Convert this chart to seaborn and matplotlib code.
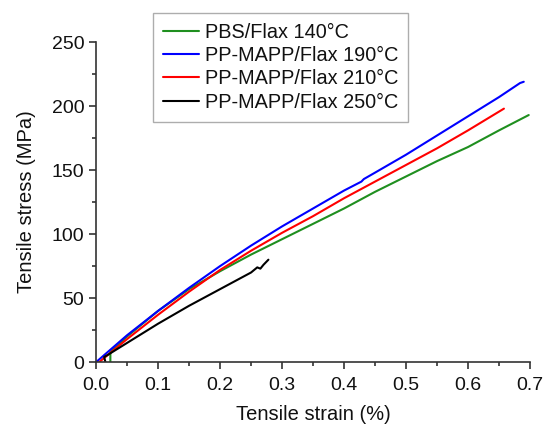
import numpy as np
import pandas as pd
import matplotlib
matplotlib.use("Agg")
import matplotlib.pyplot as plt
import seaborn as sns
from matplotlib.ticker import MultipleLocator, FormatStrFormatter

# --- Data ---
pbs_strain = [0.023, 0.023, 0.03, 0.05, 0.1, 0.15, 0.2, 0.25, 0.3, 0.35, 0.4, 0.45, 0.5, 0.55, 0.6, 0.65, 0.698]
pbs_stress = [0, 8, 11, 20, 40, 57, 71, 84, 96, 108, 120, 133, 145, 157, 168, 181, 193]

pp190_strain = [0.0, 0.05, 0.1, 0.15, 0.2, 0.25, 0.3, 0.35, 0.4, 0.428, 0.432, 0.45, 0.5, 0.55, 0.6, 0.65, 0.684, 0.69]
pp190_stress = [0, 21, 40, 58, 75, 91, 106, 120, 134, 141, 143, 148, 162, 177, 192, 207, 218, 219]

pp210_strain = [0.005, 0.05, 0.1, 0.15, 0.2, 0.25, 0.3, 0.35, 0.4, 0.45, 0.5, 0.55, 0.6, 0.658]
pp210_stress = [0, 18, 37, 55, 72, 87, 101, 114, 128, 141, 154, 167, 181, 198]

pp250_strain = [0.015, 0.013, 0.02, 0.05, 0.1, 0.15, 0.2, 0.25, 0.26, 0.265, 0.27, 0.278]
pp250_stress = [0, 4, 6, 15, 30, 44, 57, 70, 74, 73, 76, 80]

labels = ["PBS/Flax 140°C", "PP-MAPP/Flax 190°C", "PP-MAPP/Flax 210°C", "PP-MAPP/Flax 250°C"]
colors = ["#1f8f1f", "#0000ff", "#ff0000", "#000000"]

frames = []
for lab, xs, ys in zip(labels,
                       [pbs_strain, pp190_strain, pp210_strain, pp250_strain],
                       [pbs_stress, pp190_stress, pp210_stress, pp250_stress]):
    frames.append(pd.DataFrame({"strain": xs, "stress": ys, "sample": lab}))
df = pd.concat(frames, ignore_index=True)

sns.set_style("ticks")
plt.rcParams["font.family"] = ["Liberation Sans", "DejaVu Sans"]
plt.rcParams["text.color"] = "#111111"
plt.rcParams["axes.labelcolor"] = "#111111"
plt.rcParams["xtick.color"] = "#111111"
plt.rcParams["ytick.color"] = "#111111"

fig = plt.figure(figsize=(5.43, 4.25), dpi=100)
ax = fig.add_axes([0.177, 0.148, 0.799, 0.753])

# one lineplot per sample, points kept in file order
for lab, col in zip(labels, colors):
    sub = df[df["sample"] == lab]
    sns.lineplot(x=sub["strain"].values, y=sub["stress"].values, sort=False,
                 estimator=None, color=col, linewidth=1.5, ax=ax, label=lab)

ax.set_xlim(0, 0.7)
ax.set_ylim(0, 250)
ax.xaxis.set_major_locator(MultipleLocator(0.1))
ax.xaxis.set_minor_locator(MultipleLocator(0.05))
ax.yaxis.set_major_locator(MultipleLocator(50))
ax.yaxis.set_minor_locator(MultipleLocator(25))
ax.xaxis.set_major_formatter(FormatStrFormatter("%.1f"))
ax.tick_params(which="major", length=5, width=1.2, labelsize=14, color="#333333")
ax.tick_params(axis="x", which="major", pad=6)
ax.tick_params(which="minor", length=3, width=1.2, color="#333333")
for s in ["left", "bottom"]:
    ax.spines[s].set_linewidth(1.2)
    ax.spines[s].set_color("#333333")
sns.despine(ax=ax)

ax.set_xlabel("Tensile strain (%)", fontsize=14.5, labelpad=8)
ax.set_ylabel("Tensile stress (MPa)", fontsize=14.5, labelpad=11)

leg = ax.legend(loc="upper left", bbox_to_anchor=(0.282, 0.970),
                bbox_transform=fig.transFigure, fontsize=14.3,
                frameon=True, fancybox=False, edgecolor="#999999",
                handlelength=1.8, handletextpad=0.3, labelspacing=0.22,
                borderpad=0.5, borderaxespad=0)
leg.get_frame().set_linewidth(1.0)

fig.savefig("out.png", dpi=100)
